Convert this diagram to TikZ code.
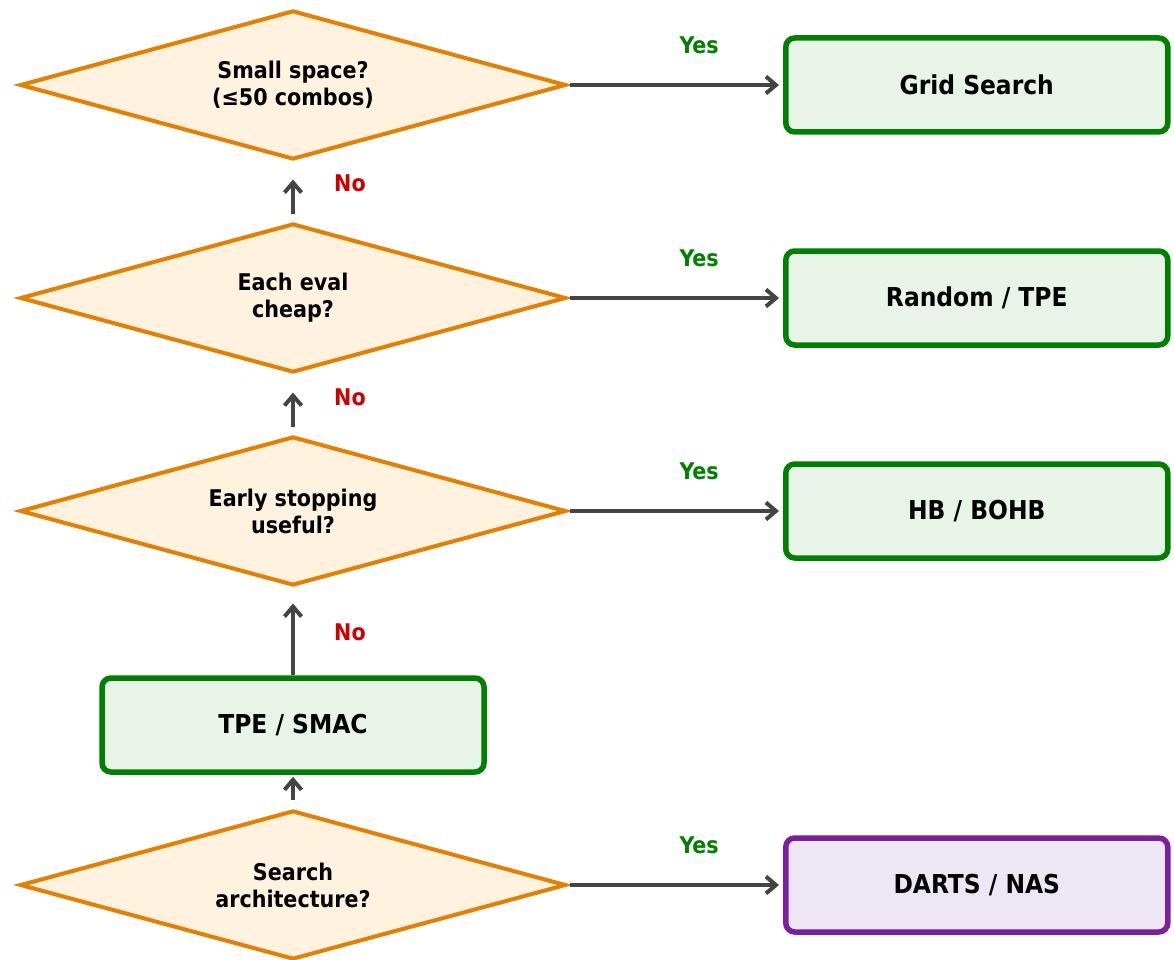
\documentclass[tikz,border=0pt]{standalone}
\usepackage{fontspec}
\setmainfont{DejaVu Sans Condensed}
\usepackage{tikz}
\usetikzlibrary{arrows.meta,positioning,shapes.geometric}
\definecolor{Amber}{HTML}{E67E00}
\definecolor{Cream}{HTML}{FFF2DF}
\definecolor{Leaf}{HTML}{008000}
\definecolor{PaleLeaf}{HTML}{E7F4E7}
\definecolor{Plum}{HTML}{7B1FA2}
\definecolor{Lilac}{HTML}{EDE6F5}
\definecolor{Graphite}{HTML}{444444}
\definecolor{Crimson}{HTML}{CC0000}

\begin{document}
\begin{tikzpicture}[
  x=1pt, y=-1pt,
  decision/.style={
    diamond,
    aspect=3.66,
    draw=Amber,
    fill=Cream,
    line width=4pt,
    minimum width=546pt,
    minimum height=149pt,
    inner sep=0pt,
    align=center,
    font=\bfseries\fontsize{23}{27}\selectfont
  },
  result/.style={
    draw=Leaf,
    fill=PaleLeaf,
    line width=5.5pt,
    rounded corners=9pt,
    minimum width=382pt,
    minimum height=94pt,
    align=center,
    font=\bfseries\fontsize{26}{30}\selectfont
  },
  nasbox/.style={
    result,
    draw=Plum,
    fill=Lilac
  },
  arrow/.style={-{Straight Barb[length=10pt,width=17pt,line width=4pt]},line width=4pt,color=Graphite},
  yeslabel/.style={text=Leaf,font=\bfseries\fontsize{23}{27}\selectfont},
  nolabel/.style={text=Crimson,font=\bfseries\fontsize{23}{27}\selectfont}
]
\useasboundingbox (0,0) rectangle (1174,960);

\node[decision] (small) at (293,85) {Small space?\\(≤50 combos)};
\node[decision] (cheap) at (293,298) {Each eval\\cheap?};
\node[decision] (early) at (293,511) {Early stopping\\useful?};
\node[result] (tpe) at (293,725) {TPE / SMAC};
\node[decision] (arch) at (293,885) {Search\\architecture?};

\node[result,right=215pt of small] (grid) {Grid Search};
\node[result,right=215pt of cheap] (random) {Random / TPE};
\node[result,right=215pt of early] (hb) {HB / BOHB};
\node[nasbox,right=215pt of arch] (darts) {DARTS / NAS};

\draw[arrow,shorten <=2pt,shorten >=4pt] (small) -- node[yeslabel,pos=0.61,yshift=40pt] {Yes} (grid);
\draw[arrow,shorten <=2pt,shorten >=4pt] (cheap) -- node[yeslabel,pos=0.61,yshift=40pt] {Yes} (random);
\draw[arrow,shorten <=2pt,shorten >=4pt] (early) -- node[yeslabel,pos=0.61,yshift=40pt] {Yes} (hb);
\draw[arrow,shorten <=2pt,shorten >=4pt] (arch) -- node[yeslabel,pos=0.61,yshift=40pt] {Yes} (darts);

\draw[arrow,shorten <=8pt,shorten >=18pt] (cheap) -- node[nolabel,xshift=57pt,yshift=8pt] {No} (small);
\draw[arrow,shorten <=8pt,shorten >=18pt] (early) -- node[nolabel,xshift=57pt,yshift=7pt] {No} (cheap);
\draw[arrow,shorten <=0pt,shorten >=16pt] (tpe) -- node[nolabel,xshift=57pt,yshift=-1pt] {No} (early);
\draw[arrow,shorten <=9pt,shorten >=2pt] (arch) -- (tpe);
\end{tikzpicture}
\end{document}
